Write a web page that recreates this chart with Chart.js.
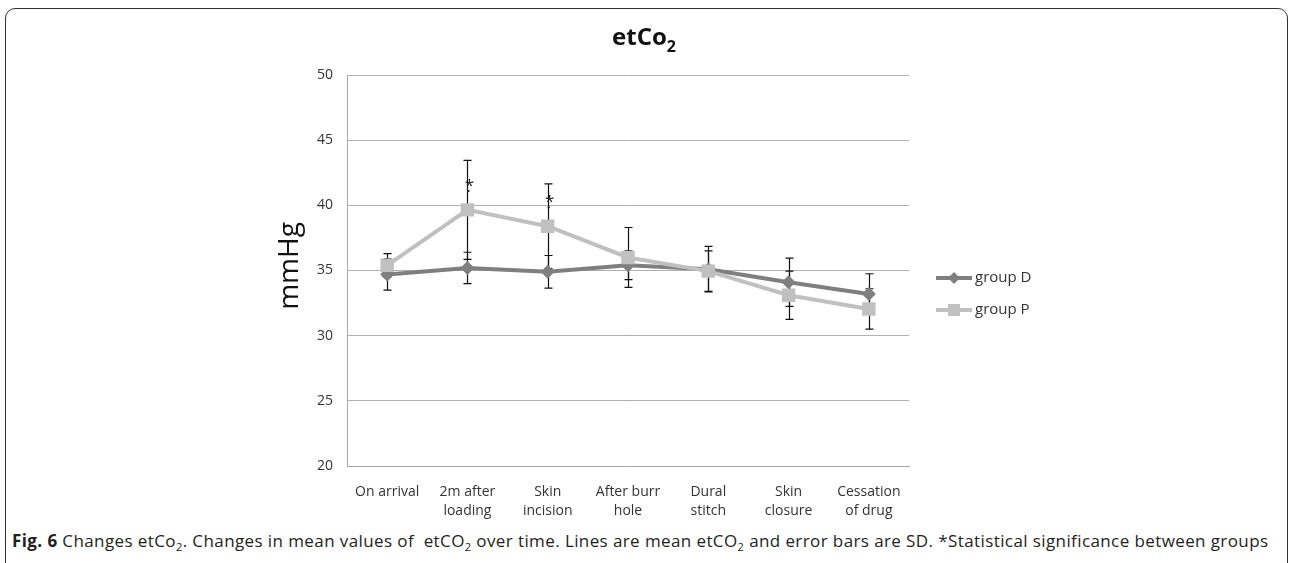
<!DOCTYPE html>
<html>
<head>
<meta charset="utf-8">
<script src="https://cdn.jsdelivr.net/npm/chart.js@4.4.0/dist/chart.umd.min.js"></script>
<style>
    body { margin: 0; background: #fff; width: 1292px; height: 563px; overflow: hidden; position: relative; font-family: "Open Sans", sans-serif; }
    #frame { position: absolute; left: 5px; top: 8px; width: 1281px; height: 600px; border: 1px solid #333; border-radius: 10px; }
    #wrap { position: absolute; left: 0; top: 0; width: 1292px; height: 522px; }
    #caption { position: absolute; left: 12px; top: 529px; font-size: 17px; letter-spacing: 0.4px; color: #231f20; white-space: nowrap; }
    #caption sub { font-size: 11px; }
</style>
</head>
<body>
<div id="frame"></div>
<div id="wrap"><canvas id="canvas" width="1292" height="522"></canvas></div>
<div id="caption"><b>Fig. 6</b> Changes etCo<sub>2</sub>. Changes in mean values of &nbsp;etCO<sub>2</sub> over time. Lines are mean etCO<sub>2</sub> and error bars are SD. *Statistical significance between groups</div>

<script>
const timePoints = ['On arrival', ['2m after', 'loading'], ['Skin', 'incision'], ['After burr', 'hole'], ['Dural', 'stitch'], ['Skin', 'closure'], ['Cessation', 'of drug']];

const groupD = [34.7, 35.2, 34.9, 35.4, 35.1, 34.1, 33.2];
const groupDsd = [1.2, 1.2, 1.25, 1.1, 1.75, 1.85, 1.55];

const groupP = [35.4, 39.65, 38.4, 36.0, 34.95, 33.1, 32.05];
const groupPsd = [0.9, 3.8, 3.25, 2.3, 1.55, 1.85, 1.55];

const significance = ['', '*', '*', '', '', '', ''];

const yTicks = { min: 20, max: 50, step: 5 };

const colorD = '#7f7f7f';
const colorP = '#c0c0c0';
const textColor = '#333333';

const extrasPlugin = {
    id: 'extras',
    beforeDatasetsDraw(chart) {
        const ctx = chart.ctx;
        const x = chart.scales.x;
        const y = chart.scales.y;
        const sets = [[groupD, groupDsd], [groupP, groupPsd]];
        ctx.save();
        ctx.strokeStyle = '#111';
        ctx.lineWidth = 1.2;
        sets.forEach(([vals, sds]) => {
            vals.forEach((v, i) => {
                const px = Math.round(x.getPixelForValue(i)) + 0.5;
                const top = y.getPixelForValue(v + sds[i]);
                const bot = y.getPixelForValue(v - sds[i]);
                ctx.beginPath();
                ctx.moveTo(px, top); ctx.lineTo(px, bot);
                ctx.moveTo(px - 4, top); ctx.lineTo(px + 4, top);
                ctx.moveTo(px - 4, bot); ctx.lineTo(px + 4, bot);
                ctx.stroke();
            });
        });
        ctx.restore();
    },
    afterDraw(chart) {
        const ctx = chart.ctx;
        const x = chart.scales.x;
        const y = chart.scales.y;
        ctx.save();

        // title etCo2
        ctx.fillStyle = '#111';
        ctx.textBaseline = 'alphabetic';
        const main = 'etCo';
        ctx.font = 'bold 24px "Open Sans"';
        const w1 = ctx.measureText(main).width;
        ctx.font = 'bold 16px "Open Sans"';
        const w2 = ctx.measureText('2').width;
        const tx = 644 - (w1 + w2) / 2;
        ctx.font = 'bold 24px "Open Sans"';
        ctx.textAlign = 'left';
        ctx.fillText(main, tx, 45);
        ctx.font = 'bold 16px "Open Sans"';
        ctx.fillText('2', tx + w1, 52);

        // y axis label
        ctx.save();
        ctx.translate(290, 266);
        ctx.rotate(-Math.PI / 2);
        ctx.font = '28px "Open Sans"';
        ctx.textAlign = 'center';
        ctx.textBaseline = 'middle';
        ctx.fillStyle = '#111';
        ctx.fillText('mmHg', 0, 0);
        ctx.restore();

        // asterisks
        ctx.fillStyle = '#222';
        ctx.textAlign = 'center';
        significance.forEach((s, i) => {
            if (!s) return;
            const px = x.getPixelForValue(i) + 2;
            ctx.font = '17px "Open Sans"';
            ctx.textBaseline = 'middle';
            ctx.fillText(s, px, y.getPixelForValue(groupP[i] + 2.15) + 4);
            ctx.fillRect(px - 2, y.getPixelForValue(groupP[i] + 1.45) - 1, 2, 2);
        });

        // legend
        chart.data.datasets.forEach((ds, i) => {
            const ly = 278 + i * 32;
            ctx.strokeStyle = ds.borderColor;
            ctx.lineWidth = ds.borderWidth;
            ctx.beginPath();
            ctx.moveTo(936, ly); ctx.lineTo(972, ly);
            ctx.stroke();
            ctx.fillStyle = ds.backgroundColor;
            ctx.beginPath();
            if (ds.pointStyle === 'rect') {
                ctx.rect(954 - 6, ly - 6, 12, 12);
            } else {
                ctx.moveTo(954, ly - 6); ctx.lineTo(960, ly); ctx.lineTo(954, ly + 6); ctx.lineTo(948, ly);
                ctx.closePath();
            }
            ctx.fill();
            ctx.fillStyle = textColor;
            ctx.font = '15px "Open Sans"';
            ctx.textAlign = 'left';
            ctx.textBaseline = 'middle';
            ctx.fillText(ds.label, 975, ly);
        });

        ctx.restore();
    }
};

const ctx = document.getElementById('canvas').getContext('2d');

new Chart(ctx, {
    type: 'line',
    data: {
        labels: timePoints,
        datasets: [
            {
                label: 'group D',
                data: groupD,
                borderColor: colorD,
                backgroundColor: colorD,
                borderWidth: 4,
                pointStyle: 'rectRot',
                pointRadius: 7,
                pointBorderWidth: 0,
                order: 1
            },
            {
                label: 'group P',
                data: groupP,
                borderColor: colorP,
                backgroundColor: colorP,
                borderWidth: 4,
                pointStyle: 'rect',
                pointRadius: 9.5,
                pointBorderWidth: 0,
                order: 0
            }
        ]
    },
    options: {
        responsive: false,
        animation: false,
        layout: {
            padding: { top: 75, right: 383, left: 0, bottom: 0 }
        },
        plugins: {
            legend: { display: false },
            title: { display: false },
            tooltip: { enabled: false }
        },
        scales: {
            x: {
                offset: true,
                afterFit(scale) { scale.height = 56; },
                grid: { display: false, drawTicks: false },
                border: { display: true, color: '#a6a6a6', width: 1 },
                ticks: {
                    color: textColor,
                    padding: 16,
                    maxRotation: 0,
                    autoSkip: false,
                    font: { family: 'Open Sans', size: 14, lineHeight: 1.4 }
                }
            },
            y: {
                min: yTicks.min,
                max: yTicks.max,
                afterFit(scale) { scale.width = 347; },
                grid: { color: '#b0b0b0', lineWidth: 1, drawTicks: false },
                border: { display: true, color: '#a6a6a6', width: 1 },
                ticks: {
                    stepSize: yTicks.step,
                    color: textColor,
                    padding: 14,
                    font: { family: 'Open Sans', size: 14 }
                }
            }
        }
    },
    plugins: [extrasPlugin]
});
</script>
</body>
</html>
